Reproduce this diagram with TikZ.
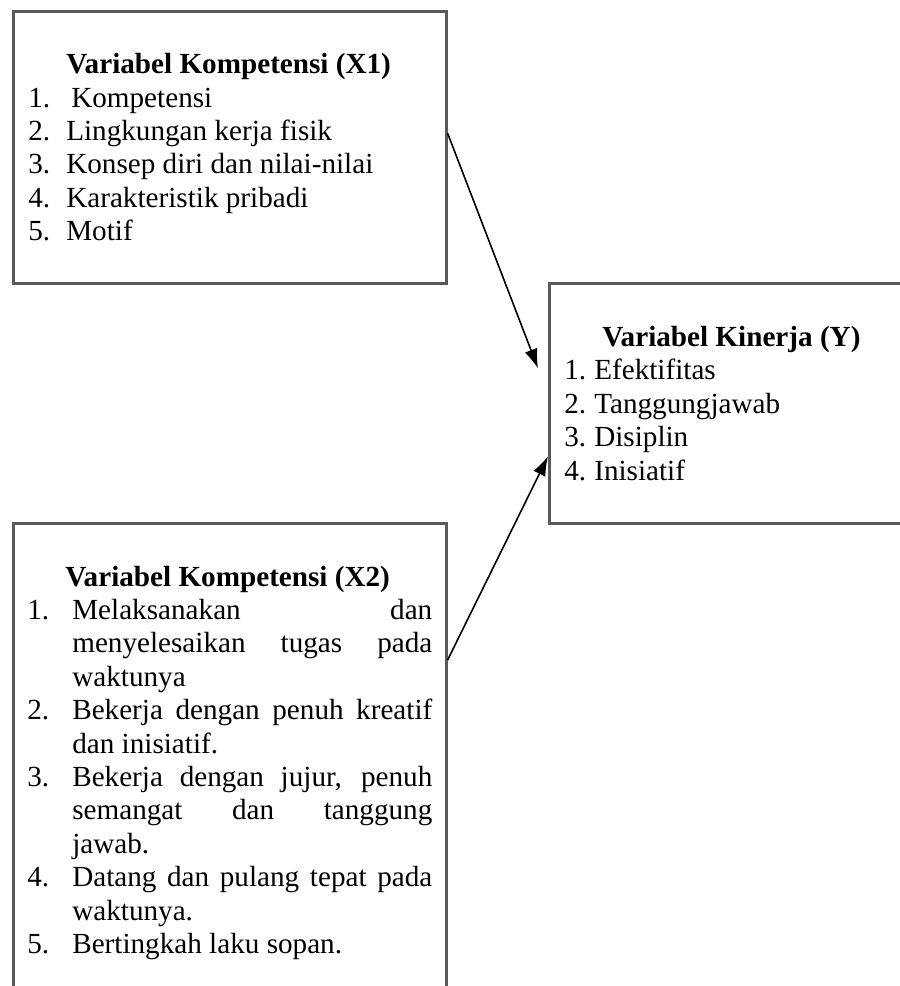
\documentclass[tikz,border=0pt]{standalone}
\usepackage{fontspec}
\setmainfont{Liberation Serif}
\usetikzlibrary{arrows.meta}

\newcommand{\kitem}[3]{\par\noindent\hangindent=#1\hangafter=1\makebox[#1][l]{#2}#3}
\newcommand{\ktitle}[1]{\noindent\hspace*{0.38cm}\textbf{#1}}

\begin{document}
\begin{tikzpicture}[>={Latex[length=5.5pt,width=3.8pt]}, line width=0.45pt,
  box/.style={draw=black!65, line width=0.75pt, anchor=north west, inner xsep=0.15cm, inner ysep=0pt, align=justify, font=\fontsize{8.3}{9.5}\selectfont}]

\useasboundingbox (0,0) rectangle (9,-9.86);
\clip (0,0) rectangle (9,-9.86);

\node[box, minimum width=4.33cm, minimum height=2.72cm, text width=4.03cm] (x1) at (0.12,-0.10) {\ktitle{Variabel Kompetensi (X1)}
\kitem{0.38cm}{1.}{\hspace{0.5mm}Kompetensi}
\kitem{0.38cm}{2.}{Lingkungan kerja fisik}
\kitem{0.38cm}{3.}{Konsep diri dan nilai-nilai}
\kitem{0.38cm}{4.}{Karakteristik pribadi}
\kitem{0.38cm}{5.}{Motif}};

\node[box, minimum width=4.0cm, minimum height=2.40cm, text width=3.7cm] (ky) at (5.48,-2.82) {\ktitle{Variabel Kinerja (Y)}
\kitem{0.30cm}{1.}{Efektifitas}
\kitem{0.30cm}{2.}{Tanggungjawab}
\kitem{0.30cm}{3.}{Disiplin}
\kitem{0.30cm}{4.}{Inisiatif}};

\node[box, minimum width=4.33cm, minimum height=4.79cm, text width=4.05cm, inner xsep=0.14cm] (x2) at (0.12,-5.22) {\ktitle{Variabel Kompetensi (X2)}
\kitem{0.45cm}{1.}{Melaksanakan dan\linebreak menyelesaikan tugas pada\linebreak waktunya}
\kitem{0.45cm}{2.}{Bekerja dengan penuh kreatif\linebreak dan inisiatif.}
\kitem{0.45cm}{3.}{Bekerja dengan jujur, penuh\linebreak semangat dan tanggung\linebreak jawab.}
\kitem{0.45cm}{4.}{Datang dan pulang tepat pada\linebreak waktunya.}
\kitem{0.45cm}{5.}{Bertingkah laku sopan.}};

\draw[->] ([yshift=0.14cm]x1.east) -- ([xshift=-0.10cm,yshift=0.35cm]ky.west);
\draw[->] ([yshift=-1.38cm]x2.north east) -- ([yshift=-0.53cm]ky.west);

\end{tikzpicture}
\end{document}
